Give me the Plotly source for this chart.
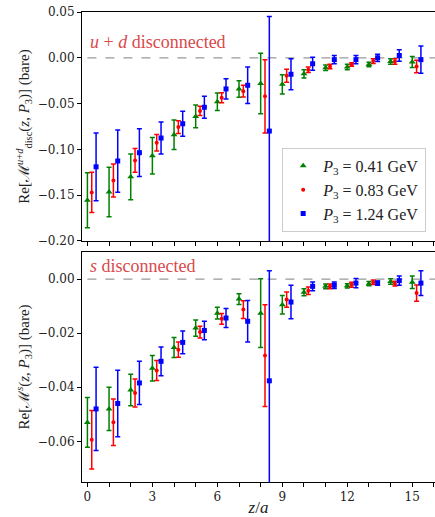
import plotly.graph_objects as go
from plotly.subplots import make_subplots

z = list(range(16))
offsets = [0.0, 0.2, 0.4]
labels = ["<i>P</i><sub>3</sub> = 0.41 GeV", "<i>P</i><sub>3</sub> = 0.83 GeV", "<i>P</i><sub>3</sub> = 1.24 GeV"]
colors = ["#008000", "#ff0000", "#0000ff"]
symbols = ["triangle-up", "circle", "square"]
msizes = [6, 4, 5]

# u+d disconnected (top panel)
ud_val = [
    [-0.1556, -0.1465, -0.130, -0.107, -0.084, -0.064, -0.048, -0.034, -0.028, -0.029, -0.0175, -0.011, -0.010, -0.0073, -0.004, -0.0047],
    [-0.147, -0.134, -0.112, -0.0927, -0.0756, -0.058, -0.0436, -0.0364, -0.042, -0.0196, -0.013, -0.0095, -0.0073, -0.0036, -0.004, -0.0095],
    [-0.119, -0.1127, -0.1036, -0.0876, -0.072, -0.054, -0.034, -0.030, -0.080, -0.018, -0.0065, -0.002, -0.002, 0.0, 0.0025, -0.002],
]
ud_err = [
    [0.030, 0.027, 0.025, 0.020, 0.016, 0.0125, 0.0095, 0.009, 0.033, 0.0105, 0.0045, 0.003, 0.003, 0.0025, 0.003, 0.006],
    [0.022, 0.018, 0.013, 0.009, 0.007, 0.005, 0.0055, 0.0065, 0.040, 0.007, 0.003, 0.0025, 0.002, 0.0025, 0.003, 0.0067],
    [0.037, 0.034, 0.026, 0.0175, 0.0136, 0.012, 0.011, 0.020, 0.125, 0.017, 0.007, 0.0045, 0.0045, 0.004, 0.0063, 0.015],
]

# s disconnected (bottom panel)
s_val = [
    [-0.053, -0.048, -0.041, -0.033, -0.0253, -0.0181, -0.0126, -0.0074, -0.0126, -0.0095, -0.0049, -0.0027, -0.0025, -0.0017, -0.0009, -0.0012],
    [-0.0594, -0.0529, -0.0421, -0.0338, -0.0261, -0.0196, -0.0147, -0.0113, -0.0283, -0.0076, -0.0043, -0.0027, -0.0021, -0.0012, -0.0017, -0.0052],
    [-0.048, -0.046, -0.0384, -0.0304, -0.0234, -0.019, -0.0144, -0.0156, -0.0376, -0.0085, -0.0027, -0.0023, -0.0015, -0.0015, -0.0006, -0.0015],
]
s_err = [
    [0.0092, 0.008, 0.0058, 0.0047, 0.0037, 0.003, 0.0022, 0.002, 0.0127, 0.0034, 0.0013, 0.0009, 0.0008, 0.0008, 0.001, 0.0023],
    [0.0108, 0.0086, 0.0052, 0.0037, 0.0028, 0.0022, 0.002, 0.0033, 0.0188, 0.0028, 0.0014, 0.0009, 0.0009, 0.0008, 0.0009, 0.003],
    [0.0154, 0.0123, 0.008, 0.0053, 0.0042, 0.0034, 0.0035, 0.0077, 0.0407, 0.0062, 0.0016, 0.0012, 0.0017, 0.0008, 0.0017, 0.0046],
]

FONT = "DejaVu Serif"
TFONT = "Liberation Serif"

fig = make_subplots(rows=2, cols=1, shared_xaxes=True, vertical_spacing=0.0)

for i in range(3):
    xs = [zz + offsets[i] for zz in z]
    for row, vals, errs in [(1, ud_val, ud_err), (2, s_val, s_err)]:
        fig.add_trace(go.Scatter(
            x=xs, y=vals[i], mode="markers", name=labels[i],
            legendgroup=str(i), showlegend=(row == 1),
            marker=dict(color=colors[i], symbol=symbols[i], size=msizes[i]),
            error_y=dict(type="data", array=errs[i], visible=True,
                         color=colors[i], thickness=1.5, width=2.5),
        ), row=row, col=1)

xr = [-0.25, 16.05]
for yref in ["y", "y2"]:
    fig.add_shape(type="line", x0=0, x1=xr[1], y0=0, y1=0,
                  xref="x" if yref == "y" else "x2", yref=yref,
                  line=dict(color="#999999", width=1.2, dash="dash"), layer="below")

fig.add_annotation(x=0.03, y=0.0045, xref="x", yref="y", xanchor="left", yanchor="bottom",
                   text="<i>u</i> + <i>d</i> disconnected", showarrow=False,
                   font=dict(family=TFONT, size=18, color="#d9494b"))
fig.add_annotation(x=0.03, y=0.0003, xref="x2", yref="y2", xanchor="left", yanchor="bottom",
                   text="<i>s</i> disconnected", showarrow=False,
                   font=dict(family=TFONT, size=18, color="#d9494b"))

axis_common = dict(showline=True, linecolor="black", linewidth=1, mirror=True,
                   ticks="outside", ticklen=4, tickcolor="black", showgrid=False,
                   zeroline=False, tickfont=dict(family=FONT, size=12, color="#222"))

fig.update_xaxes(range=xr, tickvals=[0, 3, 6, 9, 12, 15],
                 minor=dict(dtick=1, tick0=0, ticks="outside", ticklen=4, tickcolor="black"),
                 **axis_common)
fig.update_xaxes(showticklabels=False, row=1, col=1)
fig.update_xaxes(title=dict(text="<i>z</i>/<i>a</i>", font=dict(family=TFONT, size=17, color="#222"),
                            standoff=0), row=2, col=1)

fig.update_yaxes(range=[-0.2, 0.05], tickvals=[-0.2, -0.15, -0.1, -0.05, 0.0, 0.05],
                 tickformat=".2f", row=1, col=1, domain=[0.5128, 1.0],
                 title=dict(text="Re[ℳ<sup><i>u</i>+<i>d</i></sup><sub>disc</sub>(<i>z</i>, <i>P</i><sub>3</sub>)] (bare)",
                            font=dict(family=TFONT, size=15, color="#222"), standoff=4),
                 **axis_common)
fig.update_yaxes(range=[-0.075, 0.01], tickvals=[-0.06, -0.04, -0.02, 0.0],
                 tickformat=".2f", row=2, col=1, domain=[0.0, 0.4894],
                 title=dict(text="Re[ℳ<sup><i>s</i></sup>(<i>z</i>, <i>P</i><sub>3</sub>)] (bare)",
                            font=dict(family=TFONT, size=15, color="#222"), standoff=4),
                 **axis_common)

fig.update_layout(
    width=435, height=517,
    margin=dict(l=82, r=0, t=12, b=35),
    plot_bgcolor="white", paper_bgcolor="white",
    showlegend=True,
    legend=dict(x=0.975, y=0.532, xanchor="right", yanchor="bottom",
                bgcolor="rgba(255,255,255,0.9)", bordercolor="#cccccc", borderwidth=1,
                font=dict(family=TFONT, size=16, color="#222"), itemwidth=30,
                tracegroupgap=0),
)

fig.write_html("out.html", config={"displayModeBar": False},
               post_script="document.body.style.margin='0px';")
